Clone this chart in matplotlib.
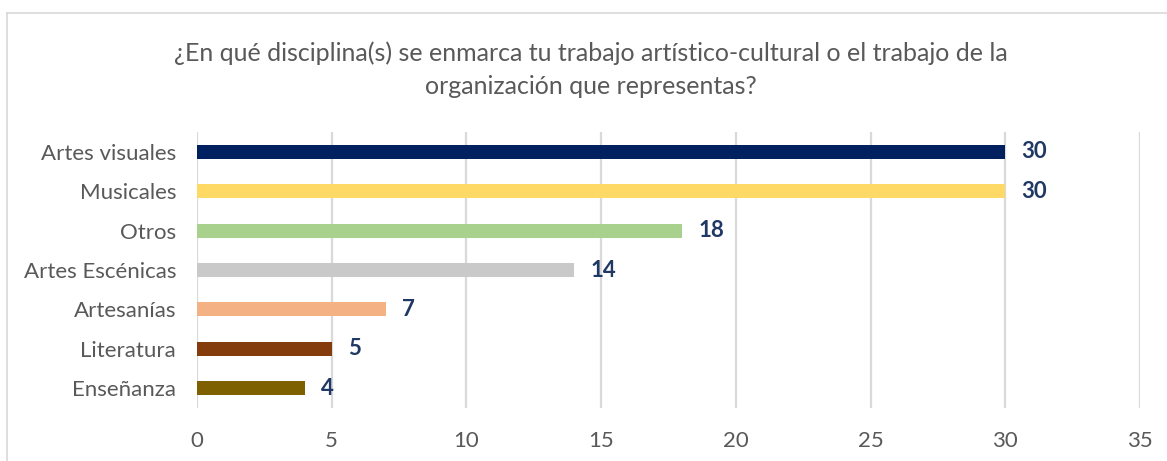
import matplotlib
matplotlib.use("Agg")
import matplotlib.pyplot as plt
from matplotlib.lines import Line2D

# data, top to bottom as shown
categories = ["Artes visuales", "Musicales", "Otros", "Artes Escénicas",
              "Artesanías", "Literatura", "Enseñanza"]
values = [30, 30, 18, 14, 7, 5, 4]
colors = ["#002060", "#FFD966", "#A9D18E", "#C9C9C9",
          "#F4B183", "#843C0C", "#7F6000"]
xticks = [0, 5, 10, 15, 20, 25, 30, 35]
title = ("¿En qué disciplina(s) se enmarca tu trabajo artístico-cultural o el trabajo de la\n"
         "organización que representas?")

plt.rcParams["font.family"] = ["Lato", "DejaVu Sans"]

fig = plt.figure(figsize=(11.67, 4.61), dpi=100)
ax = fig.add_axes([0.1688, 0.1156, 0.8081, 0.5974])

ypos = list(range(len(categories)))[::-1]
ax.barh(ypos, values, height=0.36, color=colors, zorder=3)

for y, v in zip(ypos, values):
    ax.text(v + 0.6, y, str(v), va="center", ha="left", fontsize=16,
            fontweight="bold", color="#203864")

ax.set_xlim(0, 35)
ax.set_ylim(-0.5, len(categories) - 0.5)
ax.set_xticks(xticks)
ax.set_yticks(ypos)
ax.set_yticklabels(categories)
ax.tick_params(axis="both", length=0, labelsize=16, labelcolor="#595959")
ax.tick_params(axis="x", pad=17)
ax.tick_params(axis="y", pad=15)
ax.grid(axis="x", color="#D9D9D9", linewidth=1.6, zorder=0)
for s in ax.spines.values():
    s.set_visible(False)

fig.text(0.506, 0.849, title, ha="center", va="center", fontsize=18,
         color="#595959", linespacing=1.55)

# outer chart border (top and left visible in the crop)
fig.add_artist(Line2D([7 / 1167, 7 / 1167], [0, 1 - 13 / 461],
                      transform=fig.transFigure, color="#D9D9D9", lw=1.2))
fig.add_artist(Line2D([7 / 1167, 1], [1 - 13 / 461, 1 - 13 / 461],
                      transform=fig.transFigure, color="#D9D9D9", lw=1.2))

fig.savefig("out.png", dpi=100, facecolor="white")
